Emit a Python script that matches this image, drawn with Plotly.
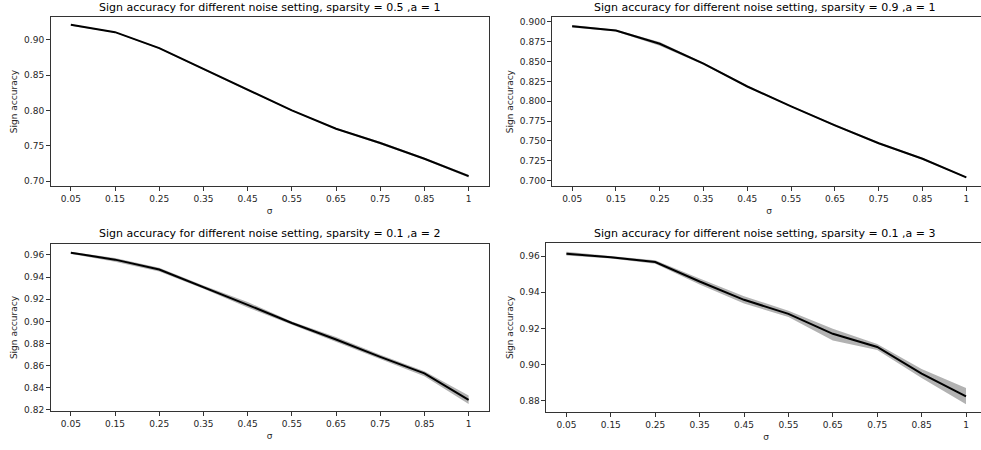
import plotly.graph_objects as go

sigma_labels = ["0.05", "0.15", "0.25", "0.35", "0.45", "0.55", "0.65", "0.75", "0.85", "1"]

# panel 1: sparsity = 0.5, a = 1
acc_s05_a1 = [0.9212, 0.9108, 0.8882, 0.8585, 0.8297, 0.8000, 0.7740, 0.7538, 0.7316, 0.7070]
lo_s05_a1 = [0.9200, 0.9100, 0.8870, 0.8570, 0.8280, 0.7990, 0.7730, 0.7520, 0.7300, 0.7050]
hi_s05_a1 = [0.9220, 0.9115, 0.8890, 0.8595, 0.8310, 0.8010, 0.7750, 0.7555, 0.7330, 0.7090]

# panel 2: sparsity = 0.9, a = 1
acc_s09_a1 = [0.8946, 0.8891, 0.8724, 0.8474, 0.8186, 0.7935, 0.7697, 0.7472, 0.7276, 0.7042]
lo_s09_a1 = [0.8930, 0.8880, 0.8700, 0.8460, 0.8175, 0.7925, 0.7685, 0.7460, 0.7265, 0.7035]
hi_s09_a1 = [0.8960, 0.8900, 0.8745, 0.8485, 0.8198, 0.7945, 0.7710, 0.7485, 0.7288, 0.7050]

# panel 3: sparsity = 0.1, a = 2
acc_s01_a2 = [0.9621, 0.9558, 0.9469, 0.9311, 0.9150, 0.8986, 0.8837, 0.8680, 0.8531, 0.8292]
lo_s01_a2 = [0.9610, 0.9540, 0.9450, 0.9295, 0.9125, 0.8970, 0.8815, 0.8655, 0.8505, 0.8255]
hi_s01_a2 = [0.9630, 0.9572, 0.9485, 0.9325, 0.9175, 0.9000, 0.8860, 0.8700, 0.8550, 0.8330]

# panel 4: sparsity = 0.1, a = 3
acc_s01_a3 = [0.9613, 0.9593, 0.9567, 0.9459, 0.9358, 0.9280, 0.9170, 0.9097, 0.8950, 0.8824]
lo_s01_a3 = [0.9603, 0.9586, 0.9557, 0.9442, 0.9338, 0.9263, 0.9133, 0.9080, 0.8925, 0.8780]
hi_s01_a3 = [0.9623, 0.9600, 0.9577, 0.9476, 0.9378, 0.9297, 0.9198, 0.9114, 0.8975, 0.8871]

titles = [
    "Sign accuracy for different noise setting, sparsity = 0.5 ,a = 1",
    "Sign accuracy for different noise setting, sparsity = 0.9 ,a = 1",
    "Sign accuracy for different noise setting, sparsity = 0.1 ,a = 2",
    "Sign accuracy for different noise setting, sparsity = 0.1 ,a = 3",
]

# the original figure is slightly wider than the 981 px view (right spines cropped)
W, H = 987, 450
# pixel boxes: (left, right, top, bottom)
boxes = [(51, 489, 17, 188), (553, 987, 17, 188), (51, 489, 246, 415), (547, 987, 245, 416)]
title_x = [270, 766, 270, 766]
title_y = [8, 8, 236, 236]
yranges = [[0.6925, 0.9325], [0.6929, 0.9063], [0.8188, 0.9701], [0.8736, 0.9673]]
yticks = [
    [0.70, 0.75, 0.80, 0.85, 0.90],
    [0.700, 0.725, 0.750, 0.775, 0.800, 0.825, 0.850, 0.875, 0.900],
    [0.82, 0.84, 0.86, 0.88, 0.90, 0.92, 0.94, 0.96],
    [0.88, 0.90, 0.92, 0.94, 0.96],
]
yfmt = [".2f", ".3f", ".2f", ".2f"]

data = [
    (acc_s05_a1, lo_s05_a1, hi_s05_a1),
    (acc_s09_a1, lo_s09_a1, hi_s09_a1),
    (acc_s01_a2, lo_s01_a2, hi_s01_a2),
    (acc_s01_a3, lo_s01_a3, hi_s01_a3),
]

FONT = "DejaVu Sans"
TXT = "#262626"
fig = go.Figure()
annotations = []
for i, ((acc, lo, hi), (l, r, t, b)) in enumerate(zip(data, boxes)):
    n = "" if i == 0 else str(i + 1)
    xa, ya = "x" + n, "y" + n
    fig.add_trace(go.Scatter(x=sigma_labels, y=lo, xaxis=xa, yaxis=ya, mode="lines",
                             line=dict(width=0), showlegend=False, hoverinfo="skip"))
    fig.add_trace(go.Scatter(x=sigma_labels, y=hi, xaxis=xa, yaxis=ya, mode="lines",
                             line=dict(width=0), fill="tonexty",
                             fillcolor="rgba(0,0,0,0.3)", showlegend=False, hoverinfo="skip"))
    fig.add_trace(go.Scatter(x=sigma_labels, y=acc, xaxis=xa, yaxis=ya, mode="lines",
                             line=dict(color="black", width=2), showlegend=False))
    xd = [l / W, r / W]
    yd = [1 - b / H, 1 - t / H]
    common = dict(showline=True, linecolor="#333333", linewidth=1, mirror=True,
                  ticks="outside", ticklen=4, tickcolor="#333333", showgrid=False, zeroline=False,
                  tickfont=dict(family=FONT, size=9, color=TXT))
    fig.layout["xaxis" + n] = dict(domain=xd, anchor=ya, type="category",
                                   range=[-0.45, 9.45], categoryorder="array",
                                   categoryarray=sigma_labels,
                                   title=dict(text="σ", font=dict(family=FONT, size=9, color=TXT),
                                              standoff=4),
                                   **common)
    fig.layout["yaxis" + n] = dict(domain=yd, anchor=xa, range=yranges[i],
                                   tickvals=yticks[i], tickformat=yfmt[i],
                                   title=dict(text="Sign accuracy",
                                              font=dict(family=FONT, size=9, color=TXT),
                                              standoff=4),
                                   **common)
    annotations.append(dict(text=titles[i], x=title_x[i] / W, y=1 - title_y[i] / H,
                            xref="paper", yref="paper", xanchor="center", yanchor="middle",
                            showarrow=False, borderpad=0,
                            font=dict(family=FONT, size=11, color="black")))

fig.update_layout(width=W, height=H, margin=dict(l=0, r=0, t=0, b=0),
                  paper_bgcolor="white", plot_bgcolor="white", annotations=annotations)
fig.write_html("out.html", config={"displayModeBar": False},
               post_script="document.body.style.margin='0';document.body.style.overflow='hidden';")
